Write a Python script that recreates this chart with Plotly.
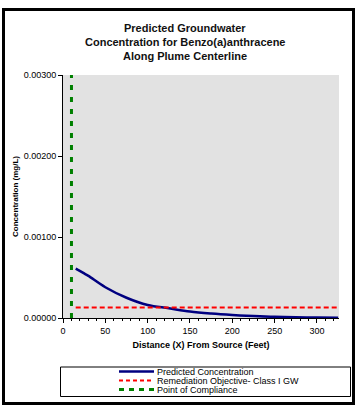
import plotly.graph_objects as go

# Data
distance = [15, 25, 30, 50, 75, 100, 125, 150, 175, 200, 225, 250, 275, 300, 325]
predicted = [0.00061, 0.00055, 0.00052, 0.00038, 0.00025, 0.00016, 0.00012, 0.00008,
             0.000055, 0.000037, 0.000024, 0.000014, 0.000009, 0.000006, 0.000004]
remediation_x = [15, 325]
remediation_y = [0.00013, 0.00013]
compliance_x = [10, 10]
compliance_y = [0, 0.003]
y_ticks = [0, 0.001, 0.002, 0.003]
x_ticks = [0, 50, 100, 150, 200, 250, 300]
legend_names = ["Predicted Concentration", "Remediation Objective- Class I GW", "Point of Compliance"]
title_lines = ["Predicted Groundwater", "Concentration for Benzo(a)anthracene", "Along Plume Centerline"]

FONT = "Arial, Liberation Sans, sans-serif"
W, H = 362, 413
L, R, T, B = 63, 339, 75, 318
PW, PH = R - L, B - T

def px(x):
    return (x - L) / PW

def py(y):
    return (B - y) / PH

navy = "#000080"
red = "#FF0000"
green = "#008000"

fig = go.Figure()
fig.add_trace(go.Scatter(x=distance, y=predicted, mode="lines", name=legend_names[0],
                         line=dict(color=navy, width=2.5, shape="spline"), showlegend=False))
fig.add_trace(go.Scatter(x=remediation_x, y=remediation_y, mode="lines", name=legend_names[1],
                         line=dict(color=red, width=2, dash="5px,3px"), showlegend=False))
fig.add_trace(go.Scatter(x=compliance_x, y=compliance_y, mode="lines", name=legend_names[2],
                         line=dict(color=green, width=3, dash="5px,7px"), showlegend=False))

shapes = []
# outer frame
shapes.append(dict(type="rect", xref="paper", yref="paper",
                   x0=px(3.5), x1=px(353.5), y0=py(9.5), y1=py(403.5),
                   line=dict(color="black", width=3), layer="below"))
# legend box
shapes.append(dict(type="rect", xref="paper", yref="paper",
                   x0=px(60.5), x1=px(350.5), y0=py(367), y1=py(396.5),
                   line=dict(color="black", width=1)))
annotations = []
leg_styles = [dict(color=navy, width=2.5), dict(color=red, width=2, dash="4px,3px"),
              dict(color=green, width=3, dash="5px,5px")]
rows = [371.5, 380.5, 389.5]
for name, st, ry in zip(legend_names, leg_styles, rows):
    shapes.append(dict(type="line", xref="paper", yref="paper",
                       x0=px(119), x1=px(154), y0=py(ry), y1=py(ry), line=st))
    annotations.append(dict(xref="paper", yref="paper", x=px(155), y=py(ry), text=name,
                            showarrow=False, xanchor="left", yanchor="middle",
                            font=dict(family=FONT, size=9, color="black")))

title_y = [28, 42, 56]
for t, ty in zip(title_lines, title_y):
    annotations.append(dict(xref="paper", yref="paper", x=px(185), y=py(ty), text="<b>%s</b>" % t,
                            showarrow=False, xanchor="center", yanchor="middle",
                            font=dict(family=FONT, size=11, color="#111111")))

fig.update_layout(
    width=W, height=H,
    margin=dict(l=L, r=W - R, t=T, b=H - B, pad=0, autoexpand=False),
    paper_bgcolor="white",
    plot_bgcolor="#E2E2E2",
    font=dict(family=FONT, size=9, color="black"),
    showlegend=False,
    shapes=shapes,
    annotations=annotations,
    xaxis=dict(range=[0, 326], tickvals=x_ticks, showgrid=False, zeroline=False, automargin=False,
               showline=True, linecolor="black", linewidth=1,
               ticks="outside", ticklen=4, tickcolor="black",
               minor=dict(dtick=10, ticks="outside", ticklen=2, tickcolor="black", showgrid=False),
               tickfont=dict(family=FONT, size=9),
               title=dict(text="<b>Distance (X) From Source (Feet)</b>", standoff=6,
                          font=dict(family=FONT, size=9))),
    yaxis=dict(range=[0, 0.003], tickvals=y_ticks, tickformat=".5f", showgrid=False, zeroline=False,
               automargin=False,
               showline=True, linecolor="black", linewidth=1,
               ticks="outside", ticklen=4, tickcolor="black",
               tickfont=dict(family=FONT, size=9),
               title=dict(text="<b>Concentration (mg/L)</b>", standoff=3,
                          font=dict(family=FONT, size=8))),
)

fig.write_html("out.html", config={"displayModeBar": False}, post_script=(
    "document.body.style.margin='0';document.body.style.padding='0';"
    "document.body.style.overflow='hidden';document.documentElement.style.overflow='hidden';"))
